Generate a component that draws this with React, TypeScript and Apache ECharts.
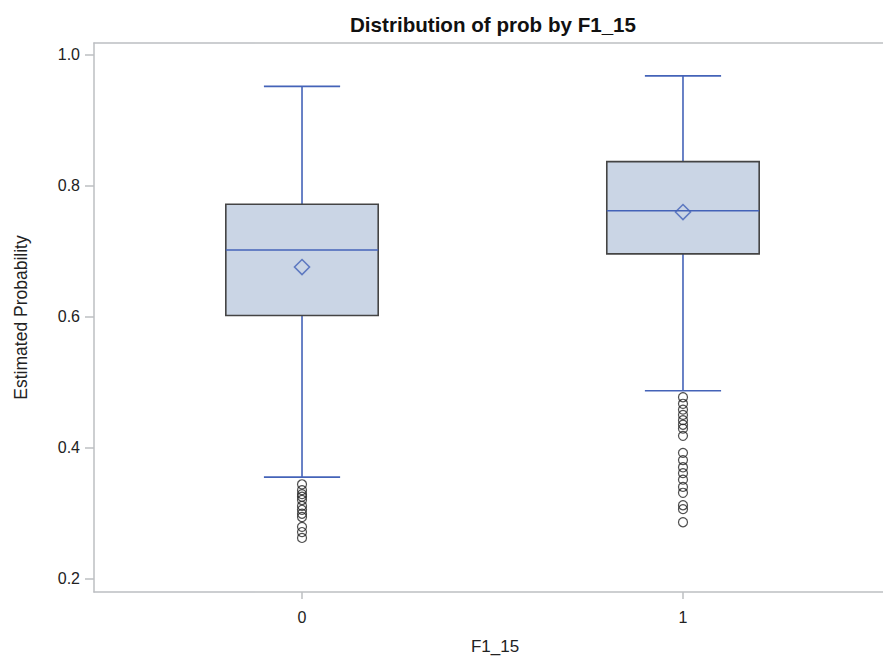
import React, { useEffect, useRef } from "react";
import * as echarts from "echarts";

const categories = ["0", "1"];
const whiskerLow = [0.355, 0.487];
const q1 = [0.602, 0.696];
const median = [0.702, 0.762];
const q3 = [0.772, 0.837];
const whiskerHigh = [0.952, 0.968];
const means = [0.676, 0.76];
const outliers0 = [0.344, 0.335, 0.329, 0.325, 0.32, 0.311, 0.305, 0.299, 0.294, 0.279, 0.271, 0.262];
const outliers1 = [0.477, 0.467, 0.458, 0.45, 0.442, 0.435, 0.429, 0.418, 0.392, 0.381, 0.37, 0.361, 0.351, 0.34, 0.331, 0.312, 0.306, 0.286];
const yTicks = [0.2, 0.4, 0.6, 0.8, 1.0];

const BLUE = "#4463b8";
const FRAME = "#bcbfc2";
const FONT = "Liberation Sans";

export default function App() {
  const ref = useRef<HTMLDivElement>(null);
  useEffect(() => {
    document.body.style.margin = "0";
    const chart = echarts.init(ref.current!, null, { renderer: "svg" });
    const boxData = categories.map((_, i) => [i, whiskerLow[i], q1[i], median[i], q3[i], whiskerHigh[i]]);
    const outlierData: number[][] = [];
    outliers0.forEach((v) => outlierData.push([0, v]));
    outliers1.forEach((v) => outlierData.push([1, v]));
    const xMin = -0.546;
    const xMax = 1.525;
    chart.setOption({
      animation: false,
      backgroundColor: "#ffffff",
      title: {
        text: "Distribution of prob by F1_15",
        left: 488,
        top: 9,
        textAlign: "center",
        textStyle: { fontFamily: FONT, fontSize: 20.6, fontWeight: "bold", color: "#111" },
      },
      grid: { left: 94, right: 0, top: 43, bottom: 70, containLabel: false },
      xAxis: [
        {
          type: "value",
          min: xMin,
          max: xMax,
          position: "bottom",
          name: "F1_15",
          nameLocation: "middle",
          nameGap: 46,
          nameTextStyle: { fontFamily: FONT, fontSize: 17, color: "#222", padding: [0, 0, 0, 13] },
          axisLine: { show: true, onZero: false, lineStyle: { color: FRAME, width: 1.5 } },
          axisTick: { show: true, length: 7, customValues: [0, 1], lineStyle: { color: FRAME, width: 1.5 } },
          axisLabel: {
            customValues: [0, 1],
            margin: 17,
            fontFamily: FONT,
            fontSize: 16,
            color: "#222",
            formatter: (v: number) => categories[Math.round(v)] ?? "",
          },
          splitLine: { show: false },
        },
        {
          type: "value",
          min: xMin,
          max: xMax,
          position: "top",
          axisLine: { show: true, onZero: false, lineStyle: { color: FRAME, width: 1.5 } },
          axisTick: { show: false },
          axisLabel: { show: false },
          splitLine: { show: false },
        },
      ],
      yAxis: {
        type: "value",
        min: 0.1794,
        max: 1.0183,
        name: "Estimated Probability",
        nameLocation: "middle",
        nameGap: 64,
        nameTextStyle: { fontFamily: FONT, fontSize: 17.5, color: "#222" },
        axisLine: { show: true, onZero: false, lineStyle: { color: FRAME, width: 1.5 } },
        axisTick: { show: true, length: 9, customValues: yTicks, lineStyle: { color: FRAME, width: 1.5 } },
        axisLabel: {
          customValues: yTicks,
          margin: 14,
          fontFamily: FONT,
          fontSize: 16,
          color: "#222",
          formatter: (v: number) => v.toFixed(1),
        },
        splitLine: { show: false },
      },
      series: [
        {
          type: "custom",
          xAxisIndex: 0,
          data: boxData,
          renderItem: (params: any, api: any) => {
            const x = api.value(0);
            const lo = api.coord([x, api.value(1)]);
            const b1 = api.coord([x, api.value(2)]);
            const md = api.coord([x, api.value(3)]);
            const b3 = api.coord([x, api.value(4)]);
            const hi = api.coord([x, api.value(5)]);
            const halfBox = api.size([0.2, 0])[0];
            const halfCap = api.size([0.1, 0])[0];
            const cx = lo[0];
            const lineStyle = { stroke: BLUE, lineWidth: 1.6 };
            return {
              type: "group",
              children: [
                { type: "line", shape: { x1: cx, y1: lo[1], x2: cx, y2: b1[1] }, style: lineStyle },
                { type: "line", shape: { x1: cx, y1: b3[1], x2: cx, y2: hi[1] }, style: lineStyle },
                { type: "line", shape: { x1: cx - halfCap, y1: lo[1], x2: cx + halfCap, y2: lo[1] }, style: lineStyle },
                { type: "line", shape: { x1: cx - halfCap, y1: hi[1], x2: cx + halfCap, y2: hi[1] }, style: lineStyle },
                {
                  type: "rect",
                  shape: { x: cx - halfBox, y: b3[1], width: halfBox * 2, height: b1[1] - b3[1] },
                  style: { fill: "#cad5e5", stroke: "#444444", lineWidth: 1.6 },
                },
                { type: "line", shape: { x1: cx - halfBox, y1: md[1], x2: cx + halfBox, y2: md[1] }, style: lineStyle },
              ],
            };
          },
          z: 2,
        },
        {
          type: "scatter",
          xAxisIndex: 0,
          data: means.map((m, i) => [i, m]),
          symbol: "diamond",
          symbolSize: 15,
          itemStyle: { color: "rgba(0,0,0,0)", borderColor: BLUE, borderWidth: 1.6 },
          z: 3,
        },
        {
          type: "scatter",
          xAxisIndex: 0,
          data: outlierData,
          symbol: "circle",
          symbolSize: 9,
          itemStyle: { color: "rgba(0,0,0,0)", borderColor: "#222", borderWidth: 1.2 },
          z: 3,
        },
      ],
    });
    return () => chart.dispose();
  }, []);
  return <div ref={ref} style={{ width: 883, height: 662 }} />;
}
